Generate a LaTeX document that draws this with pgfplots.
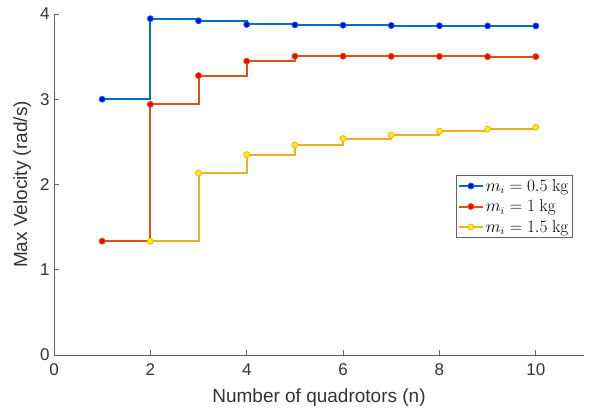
\documentclass[border=0pt]{standalone}
\usepackage[no-math]{fontspec}
\setmainfont{Liberation Sans}
\usepackage{pgfplots}
\pgfplotsset{compat=1.18}
\definecolor{mblue}{RGB}{0,114,189}
\definecolor{mred}{RGB}{217,83,25}
\definecolor{myel}{RGB}{237,177,32}
\definecolor{axgray}{RGB}{100,100,100}
\begin{document}
\begin{tikzpicture}[x=1pt,y=1pt]
\useasboundingbox (0,0) rectangle (592,412);
\begin{axis}[
  at={(54pt,57pt)}, anchor=south west,
  scale only axis, width=530pt, height=341pt,
  xmin=0, xmax=11, ymin=0, ymax=4,
  xtick={0,2,4,6,8,10}, ytick={0,1,2,3,4},
  axis x line*=bottom, axis y line*=left,
  axis line style={axgray, line width=0.8pt, -},
  tick style={axgray, line width=0.8pt},
  tick align=inside, major tick length=5pt,
  /pgf/number format/assume math mode=true,
  tick label style={font=\fontsize{17}{20}\selectfont, text=black!80},
  xticklabel style={yshift=-5pt},
  yticklabel style={xshift=-1pt},
  label style={font=\fontsize{19}{22}\selectfont, text=black!80},
  xlabel={Number of quadrotors (n)},
  ylabel={Max Velocity (rad/s)},
  xlabel style={yshift=-6pt},
  ylabel style={yshift=2pt},
  legend style={at={(0.979,0.528)}, anchor=north east, draw=axgray, line width=0.6pt,
    font=\fontsize{16}{19}\selectfont, inner sep=2pt, row sep=3pt, cells={anchor=west}},
  legend image code/.code={\draw[mark repeat=2,mark phase=2] plot coordinates {(0pt,0pt)(12pt,0pt)(24pt,0pt)};},
  legend cell align=left,
]
\addplot[const plot mark left, color=mblue, line width=2pt, mark=*, mark size=3pt,
  mark options={fill=blue, draw=mblue, line width=0.8pt}] coordinates {
 (1,3.00) (2,3.945) (3,3.92) (4,3.877) (5,3.872) (6,3.868) (7,3.865) (8,3.862) (9,3.86) (10,3.86)};
\addlegendentry{$m_i = 0.5~\mathrm{kg}$}
\addplot[const plot mark left, color=mred, line width=2pt, mark=*, mark size=3pt,
  mark options={fill=red, draw=mred, line width=0.8pt}] coordinates {
 (1,1.335) (2,2.94) (3,3.277) (4,3.447) (5,3.505) (6,3.505) (7,3.503) (8,3.502) (9,3.50) (10,3.50)};
\addlegendentry{$m_i = 1~\mathrm{kg}$}
\addplot[const plot mark left, color=myel, line width=2pt, mark=*, mark size=3pt,
  mark options={fill=yellow, draw=myel, line width=0.8pt}] coordinates {
 (2,1.335) (3,2.135) (4,2.35) (5,2.463) (6,2.539) (7,2.58) (8,2.625) (9,2.65) (10,2.67)};
\addlegendentry{$m_i = 1.5~\mathrm{kg}$}
\end{axis}
\end{tikzpicture}
\end{document}
